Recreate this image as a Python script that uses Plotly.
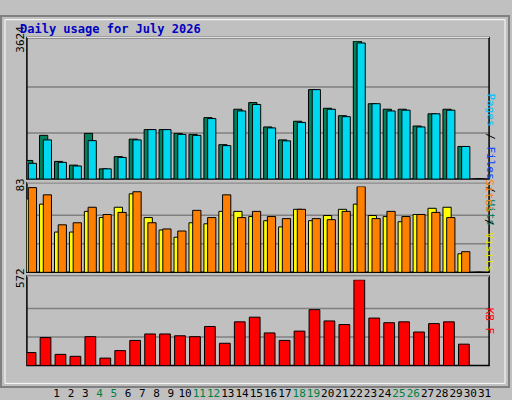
import plotly.graph_objects as go

days = list(range(1, 32))
hits = [490,1150,465,367,1200,270,590,1050,1300,1300,1200,1175,1615,905,1835,2010,1370,1030,1520,2350,1860,1665,3624,1980,1835,1835,1395,1715,1835,857,0]
files = [415,1030,440,345,1010,270,570,1030,1300,1300,1175,1150,1590,880,1790,1960,1345,1005,1490,2350,1835,1640,3575,1980,1790,1810,1370,1715,1810,857,0]
visits = [71,66,39,39,59,53,63,76,53,41,34,48,47,59,59,54,50,44,61,50,55,61,66,55,54,49,56,62,63,18,0]
sites = [82,75,46,48,63,56,58,78,48,42,40,60,53,75,53,59,54,52,61,52,51,59,83,52,59,54,56,58,53,20,0]
kbytes = [87,187,75,62,193,50,100,168,211,211,199,193,261,149,292,323,218,168,230,373,298,274,572,317,286,292,224,280,292,143,0]
weekend = [4,5,11,12,18,19,25,26]
day_labels = [f"<span style='color:#008040'>{d}</span>" if d in weekend else str(d) for d in days]

W, H = 512, 400
def fx(px): return px / W
def fy(py): return 1 - py / H

F = "DejaVu Sans Mono"
fig = go.Figure()
fig.add_bar(x=days, y=hits, xaxis="x", yaxis="y", width=0.55, offset=-0.42,
            marker=dict(color="#00805C", line=dict(color="black", width=1)))
fig.add_bar(x=days, y=files, xaxis="x", yaxis="y", width=0.55, offset=-0.17,
            marker=dict(color="#00D8F0", line=dict(color="black", width=1)))
fig.add_bar(x=days, y=visits, xaxis="x2", yaxis="y2", width=0.55, offset=-0.42,
            marker=dict(color="#FFFF00", line=dict(color="black", width=1)))
fig.add_bar(x=days, y=sites, xaxis="x2", yaxis="y2", width=0.55, offset=-0.17,
            marker=dict(color="#FF8000", line=dict(color="black", width=1)))
fig.add_bar(x=days, y=kbytes, xaxis="x3", yaxis="y3", width=0.72, offset=-0.38,
            marker=dict(color="#FF0000", line=dict(color="black", width=1)))
# invisible trace to activate the day-label axis
fig.add_scatter(x=[1], y=[0], xaxis="x4", yaxis="y", mode="markers",
                marker=dict(opacity=0), hoverinfo="skip")

xr = [1 - 4/15, 30 + 25/15]
xd = [fx(27), fx(491)]
common_x = dict(range=xr, domain=xd, showticklabels=False, showgrid=False, zeroline=False, fixedrange=True)
fig.update_layout(
    width=W, height=H, margin=dict(l=0, r=0, t=0, b=0),
    paper_bgcolor="#C0C0C0", plot_bgcolor="#C0C0C0", barmode="overlay", showlegend=False,
    font=dict(family=F, size=11, color="black"),
    xaxis=dict(**common_x, anchor="y"),
    xaxis2=dict(**common_x, anchor="y2"),
    xaxis3=dict(**common_x, anchor="y3"),
    xaxis4=dict(domain=[0, 1], range=[1 - 33/15.8, 1 + 479/15.8], anchor="free", position=fy(397),
                overlaying="x", side="bottom", tickvals=days, ticktext=day_labels, ticks="",
                tickangle=0, showgrid=False, zeroline=False, fixedrange=True,
                tickfont=dict(family=F, size=11)),
    yaxis=dict(domain=[fy(176), fy(28)], range=[0, 3624], tickvals=[3624], ticktext=["3624"],
               tickangle=-90, showgrid=False, zeroline=False, anchor="x", ticks=""),
    yaxis2=dict(domain=[fy(276), fy(184)], range=[0, 83], tickvals=[83], ticktext=["83"],
                tickangle=-90, showgrid=False, zeroline=False, anchor="x2", ticks=""),
    yaxis3=dict(domain=[fy(376), fy(284)], range=[0, 572], tickvals=[572], ticktext=["572"],
                tickangle=-90, showgrid=False, zeroline=False, anchor="x3", ticks=""),
)

shapes = []
for ya, top in (("y", 3624), ("y2", 83), ("y3", 572)):
    for k in (1, 2):
        shapes.append(dict(type="line", xref="paper", yref=ya, x0=xd[0], x1=xd[1], y0=top*k/3, y1=top*k/3,
                           line=dict(color="#808080", width=1.5), layer="below"))
for t, b in ((24, 176), (180, 276), (280, 376)):
    shapes.append(dict(type="rect", xref="paper", yref="paper", x0=xd[0], x1=xd[1], y0=fy(b), y1=fy(t),
                       line=dict(color="black", width=1.5), layer="below"))
    shapes.append(dict(type="line", xref="paper", yref="paper", x0=xd[0], x1=xd[1], y0=fy(t), y1=fy(t),
                       line=dict(color="white", width=1)))
shapes.append(dict(type="rect", xref="paper", yref="paper", x0=fx(1), x1=fx(511), y0=fy(399), y1=fy(1),
                   line=dict(color="#808080", width=2)))
shapes.append(dict(type="rect", xref="paper", yref="paper", x0=fx(5), x1=fx(507), y0=fy(395), y1=fy(5),
                   line=dict(color="white", width=1)))
fig.update_layout(shapes=shapes)

fig.add_annotation(x=fx(18), y=fy(15), xref="paper", yref="paper", xanchor="left", yanchor="middle",
                   text="<b>Daily usage for July 2026</b>", showarrow=False,
                   font=dict(family=F, size=12, color="#0000C0"))
def rlabel(text, yc):
    fig.add_annotation(x=fx(500), y=fy(yc), xref="paper", yref="paper", text=text, showarrow=False,
                       textangle=90, font=dict(family=F, size=11))
rlabel("<span style='color:#00C0FF'>Pages</span> / <span style='color:#0040FF'>Files</span> / <span style='color:#00805C'>Hits</span>", 82)
rlabel("<span style='color:#FF8000'>Sites</span> / <span style='color:#E0E000'>Visits</span>", 226)
rlabel("<span style='color:#FF0000'>KB F</span>", 345)

fig.write_html("out.html", config={"displayModeBar": False},
               post_script="document.body.style.margin='0';document.body.style.overflow='hidden';")
